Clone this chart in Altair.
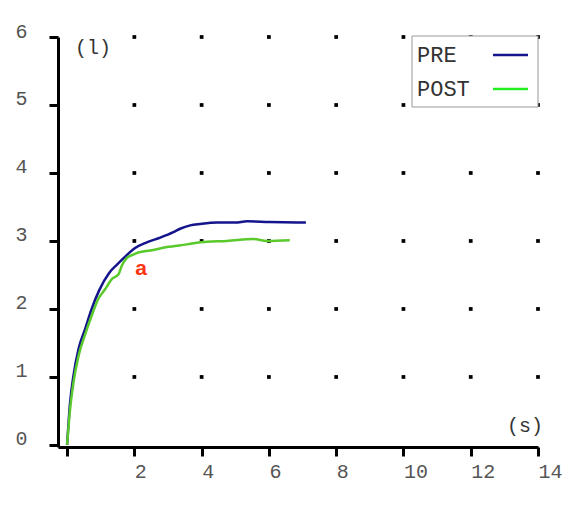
import altair as alt
import pandas as pd

# ---- data ----
pre_x = [0.0, 0.09, 0.19, 0.34, 0.54, 0.73, 0.95, 1.25, 1.5, 1.75, 2.0, 2.37, 2.77, 3.16, 3.36, 3.66, 3.96, 4.46, 5.0, 5.35, 6.0, 7.1]
pre_y = [0.0, 0.63, 1.02, 1.41, 1.71, 2.0, 2.27, 2.53, 2.66, 2.78, 2.89, 2.98, 3.05, 3.13, 3.18, 3.23, 3.25, 3.27, 3.27, 3.29, 3.28, 3.27]

post_x = [0.0, 0.09, 0.19, 0.34, 0.54, 0.73, 0.93, 1.13, 1.33, 1.53, 1.63, 1.78, 1.97, 2.12, 2.47, 2.97, 3.56, 3.96, 4.16, 4.75, 5.54, 5.94, 6.62]
post_y = [0.0, 0.53, 0.92, 1.31, 1.63, 1.9, 2.15, 2.29, 2.44, 2.51, 2.64, 2.75, 2.8, 2.83, 2.86, 2.91, 2.95, 2.98, 2.99, 3.0, 3.03, 3.0, 3.01]

series_names = ["PRE", "POST"]
series_colors = ["#14148c", "#5ac92c"]
legend_colors = ["#14148c", "#22ee22"]

x_ticks = [0, 2, 4, 6, 8, 10, 12, 14]
y_ticks = [0, 1, 2, 3, 4, 5, 6]
dot_x = [2, 4, 6, 8, 10, 12, 14]
dot_y = [1, 2, 3, 4, 5, 6]

FONT = "Liberation Mono"

lines_df = pd.concat([
    pd.DataFrame({"t": pre_x, "v": pre_y, "series": "PRE", "order": range(len(pre_x))}),
    pd.DataFrame({"t": post_x, "v": post_y, "series": "POST", "order": range(len(post_x))}),
])
dots_df = pd.DataFrame([(gx, gy) for gx in dot_x for gy in dot_y], columns=["t", "v"])

xscale = alt.Scale(domain=[-0.27, 14], nice=False, zero=False)
yscale = alt.Scale(domain=[-0.03, 6], nice=False, zero=False)

xaxis = alt.Axis(values=x_ticks, title=None, grid=False, labelAlign="left", format="d",
                 labelPadding=5, labelExpr="datum.value == 0 ? '' : datum.label")
yaxis = alt.Axis(values=y_ticks, title=None, grid=False, labelBaseline="alphabetic",
                 format="d", labelPadding=22)

dots = alt.Chart(dots_df).mark_square(size=14, color="black", opacity=1).encode(
    x=alt.X("t:Q", scale=xscale, axis=xaxis),
    y=alt.Y("v:Q", scale=yscale, axis=yaxis),
)

lines = alt.Chart(lines_df).mark_line(strokeWidth=2.5, interpolate="monotone").encode(
    x=alt.X("t:Q", scale=xscale),
    y=alt.Y("v:Q", scale=yscale),
    color=alt.Color("series:N", scale=alt.Scale(domain=series_names, range=series_colors), legend=None),
    order="order:Q",
)

label_a = alt.Chart(pd.DataFrame({"t": [2.2], "v": [2.59], "txt": ["a"]})).mark_text(
    font="Liberation Sans", fontWeight="bold", fontSize=21, color="#ff3311", baseline="middle", align="center"
).encode(x=alt.X("t:Q", scale=xscale), y=alt.Y("v:Q", scale=yscale), text="txt:N")

unit_l = alt.Chart(pd.DataFrame({"txt": ["(l)"]})).mark_text(
    font=FONT, fontSize=20, color="#333", align="left", baseline="middle"
).encode(x=alt.value(17), y=alt.value(11), text="txt:N")

unit_s = alt.Chart(pd.DataFrame({"txt": ["(s)"]})).mark_text(
    font=FONT, fontSize=20, color="#333", align="left", baseline="middle"
).encode(x=alt.value(449), y=alt.value(389), text="txt:N")

legend_box = alt.Chart(pd.DataFrame({"k": [0]})).mark_rect(
    fill="white", stroke="#999999", strokeWidth=1
).encode(x=alt.value(354), x2=alt.value(480), y=alt.value(-1), y2=alt.value(70))

legend_rows_y = [18, 52]
legend_layers = []
for name, lc, ry in zip(series_names, legend_colors, legend_rows_y):
    row_df = pd.DataFrame({"series": [name]})
    legend_layers.append(
        alt.Chart(row_df).mark_text(
            font=FONT, fontSize=22, color="#333", align="left", baseline="middle"
        ).encode(x=alt.value(359), y=alt.value(ry), text="series:N")
    )
    legend_layers.append(
        alt.Chart(row_df).mark_rule(strokeWidth=2.5, color=lc).encode(
            x=alt.value(435), x2=alt.value(470), y=alt.value(ry)
        )
    )

chart = alt.layer(
    dots, lines, label_a, unit_l, unit_s, legend_box, *legend_layers
).properties(
    width=480, height=410,
    autosize=alt.AutoSizeParams(type="none"),
    padding={"left": 50, "top": 29, "right": 40, "bottom": 60},
    background="white",
).configure_view(stroke=None).configure_axis(
    domainColor="black", domainWidth=3, tickColor="black", tickWidth=3, tickSize=9,
    labelFont=FONT, labelFontSize=20, labelColor="#555",
)

chart.save("out.html", embed_options={"renderer": "svg", "actions": False})
